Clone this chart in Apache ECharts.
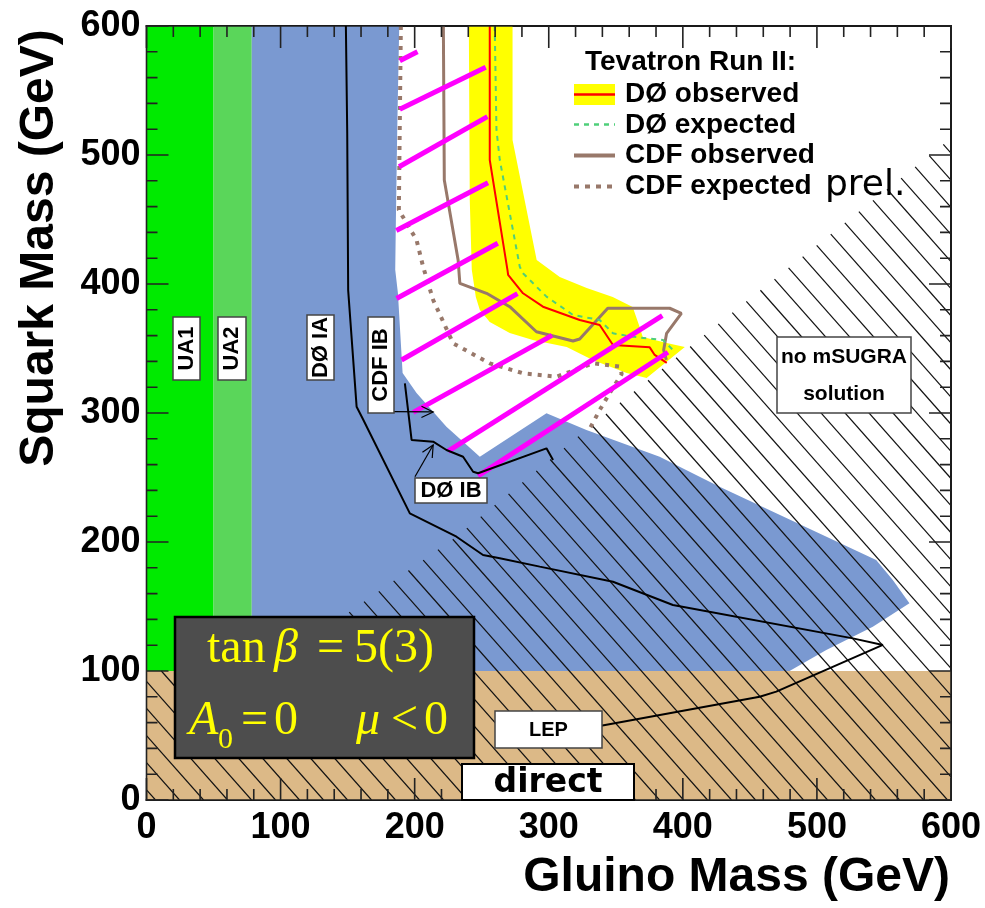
<!DOCTYPE html>
<html>
<head>
<meta charset="utf-8">
<script src="https://cdn.jsdelivr.net/npm/echarts@6/dist/echarts.min.js"></script>
<style>
html, body { margin: 0; padding: 0; background: #fff; }
#chart { width: 985px; height: 908px; }
</style>
</head>
<body>
<div id="chart"></div>
<script>
// Axis ranges (GeV) and tick values
const gluinoRange = [0, 600];
const squarkRange = [0, 600];
const majorTicks = [0, 100, 200, 300, 400, 500, 600];
const minorPerMajor = 5;

// Excluded regions as [gluino mass, squark mass] vertices
const ua1Region = [[0, 100], [50, 100], [50, 600], [0, 600]];
const ua2Region = [[50, 100], [78.5, 100], [78.5, 600], [50, 600]];
const d0IaRegion = [[78.5, 600], [188.5, 600], [187, 520], [186, 450], [185.5, 411], [187.5, 393],
  [191, 331], [201.4, 315.5], [223.7, 289.4], [248.6, 266.1], [298.3, 299.8], [328.1, 286.8],
  [382.7, 266.1], [427.4, 242.9], [544.2, 186], [556.6, 170.5], [569, 152.5], [541.7, 134.3],
  [507, 116.3], [479.6, 100], [78.5, 100]];
const lepRegion = [[0, 0], [600, 0], [600, 100], [0, 100]];
const noSugraRegion = [[600, 513], [442, 382], [328, 287], [231, 204], [149, 144], [86, 100],
  [0, 100], [0, 0], [600, 0]];
const d0BandRegion = [[240.4, 600], [241.1, 465], [242.6, 411], [245.6, 390], [248.6, 379.8],
  [256, 370.5], [270.9, 362], [288.1, 356.6], [313.4, 351.2], [332.8, 341.1], [358.1, 331],
  [373, 327.1], [401.5, 351.2], [388, 354.3], [370.1, 358.9], [367.8, 366.7], [362.6, 382.2],
  [347.7, 389.9], [328.3, 396.9], [308.2, 405.4], [291, 418.6], [273, 511.6], [273, 600]];

// Limit curves
const d0Observed = [[256, 600], [256, 496.1], [269.2, 410.9], [269.7, 407], [280.8, 392.8],
  [295.7, 382.4], [323.1, 372.1], [338, 368.2], [347.9, 352.7], [375.3, 350.9], [379, 345],
  [388, 338.8]];
const d0Expected = [[259.7, 600], [261, 519.4], [263.5, 496.1], [278.4, 413.4], [280.8, 408.3],
  [298.3, 390.2], [318.1, 376], [338, 372.1], [347.9, 361.8], [362.8, 359.1], [385.2, 356.6],
  [393.9, 347.5]];
const cdfObserved = [[221.4, 600], [222.1, 480.6], [232.4, 418.6], [233.7, 400.5], [253.6, 392.8],
  [270.9, 382.4], [290.8, 363], [318.1, 355.8], [323.1, 357.4], [344, 381.2], [390.2, 381.2],
  [398.9, 377.3], [387.9, 361.8], [385.7, 348.8], [387.7, 341.1]];
const cdfExpected = [[189.7, 600], [188.2, 457.4], [201.4, 434.1], [206.3, 413.4], [213.8, 387.6],
  [228.7, 354], [256, 338.5], [280.8, 330.8], [305.7, 328.1], [333, 338.5], [352.9, 335.9],
  [354.4, 330.2], [345.5, 315.5], [338, 302.3], [330.5, 287.6]];
const d0IaLimit = [[148.7, 600], [149.7, 516.8], [150.4, 395.3], [156.7, 304.9], [161.1, 295.9],
  [196.4, 222.2], [231.2, 204.1], [251, 189.9], [263.5, 187.4], [293.3, 180.9], [347.9, 169.2],
  [392.6, 151.2], [526.8, 125.3], [549.2, 120.2], [469.7, 84], [457.3, 80.1], [338, 57.4]];
const d0IbLimit = [[192.7, 323], [197.7, 279.1], [213.8, 277.8], [223.7, 271.3], [236.1, 266.1],
  [243.6, 254.5], [247.3, 253.3], [298.3, 272.6], [303.2, 263.6]];

// CDF Run IB excluded band, drawn as hatch strokes
const cdfIbStrokes = [
  [[188.9, 573.1], [202.1, 580.1]],
  [[188.9, 535.4], [253, 568]],
  [[188.4, 490.9], [254.3, 529.7]],
  [[186.3, 441.5], [254.7, 478.5]],
  [[186.5, 388.8], [262, 431.6]],
  [[190.2, 341.1], [276.7, 392.6]],
  [[198.9, 300.5], [302.5, 360.2]],
  [[224.9, 270.5], [384.7, 375.4]],
  [[247.3, 251.2], [388.9, 347.1]]
];

// Label pointers: [tail, tip]
const cdfIbPointer = [[183.9, 301], [213.8, 300.8]];
const d0IbPointer = [[200.2, 250.6], [213.8, 275.2]];

const SANS = '"Liberation Sans", Arial, Helvetica, sans-serif';
const SERIF = '"Liberation Serif", "Times New Roman", serif';

function regionSeries(name, pts, fill, z) {
  return {
    type: 'custom', name: name, coordinateSystem: 'cartesian2d', z: z, silent: true, clip: true,
    data: [[0, 0]],
    renderItem: function (params, api) {
      return { type: 'polygon', shape: { points: pts.map(function (p) { return api.coord(p); }) },
        style: { fill: fill, stroke: null } };
    }
  };
}

// Tick values: majors plus evenly split minors
function tickValues() {
  const out = [];
  for (let i = 0; i < majorTicks.length; i++) {
    out.push({ v: majorTicks[i], major: true });
    if (i + 1 < majorTicks.length) {
      const step = (majorTicks[i + 1] - majorTicks[i]) / minorPerMajor;
      for (let m = 1; m < minorPerMajor; m++) out.push({ v: majorTicks[i] + m * step, major: false });
    }
  }
  return out;
}

// Diagonal "\" hatching clipped to a polygon (even-odd scanlines along the stroke direction)
function hatchSeries(name, pts, z) {
  return {
    type: 'custom', name: name, coordinateSystem: 'cartesian2d', z: z, silent: true, clip: true,
    data: [[0, 0]],
    renderItem: function (params, api) {
      const px = pts.map(function (p) { return api.coord(p); });
      const k = 1.13, step = 24 * k;
      const cs = px.map(function (p) { return p[1] - k * p[0]; });
      const lo = Math.min.apply(null, cs), hi = Math.max.apply(null, cs);
      const children = [];
      for (let c = Math.ceil(lo / step) * step + 0.5; c <= hi; c += step) {
        const xs = [];
        for (let i = 0; i < px.length; i++) {
          const a = px[i], b = px[(i + 1) % px.length];
          const fa = a[1] - k * a[0] - c, fb = b[1] - k * b[0] - c;
          if ((fa < 0) !== (fb < 0)) {
            const t = fa / (fa - fb);
            xs.push(a[0] + t * (b[0] - a[0]));
          }
        }
        xs.sort(function (m, n) { return m - n; });
        for (let j = 0; j + 1 < xs.length; j += 2) {
          children.push({ type: 'line', shape: { x1: xs[j], y1: k * xs[j] + c, x2: xs[j + 1], y2: k * xs[j + 1] + c },
            style: { stroke: '#111', lineWidth: 1.2 } });
        }
      }
      return { type: 'group', children: children };
    }
  };
}

// Inward frame ticks, one comb-shaped polyline per side of the frame
function frameTickSeries(name, z) {
  return {
    type: 'custom', name: name, coordinateSystem: 'cartesian2d', z: z, silent: true, clip: false,
    data: [[0, 0]],
    renderItem: function (params, api) {
      const c0 = api.coord([gluinoRange[0], squarkRange[0]]);
      const c1 = api.coord([gluinoRange[1], squarkRange[1]]);
      const bottom = [], top = [], left = [], right = [];
      tickValues().forEach(function (t) {
        const len = t.major ? 22 : 11;
        const p = api.coord([t.v, t.v]);
        bottom.push([p[0], c0[1]], [p[0], c0[1] - len], [p[0], c0[1]]);
        top.push([p[0], c1[1]], [p[0], c1[1] + len], [p[0], c1[1]]);
        left.push([c0[0], p[1]], [c0[0] + len, p[1]], [c0[0], p[1]]);
        right.push([c1[0], p[1]], [c1[0] - len, p[1]], [c1[0], p[1]]);
      });
      function comb(points) {
        return { type: 'polyline', shape: { points: points },
          style: { stroke: '#222', lineWidth: 1.6, fill: null, lineJoin: 'miter' } };
      }
      return { type: 'group', children: [comb(bottom), comb(top), comb(left), comb(right)] };
    }
  };
}

function curveSeries(name, pts, lineStyle, z) {
  return { type: 'line', name: name, data: pts, symbol: 'none', showSymbol: false, smooth: false,
    lineStyle: lineStyle, z: z, silent: true, clip: true };
}

function pointerSeries(name, seg, z) {
  return {
    type: 'custom', name: name, coordinateSystem: 'cartesian2d', z: z, silent: true,
    data: [[0, 0]],
    renderItem: function (params, api) {
      const a = api.coord(seg[0]), b = api.coord(seg[1]);
      const ang = Math.atan2(b[1] - a[1], b[0] - a[0]);
      const L = 13, w = 0.45;
      const h1 = [b[0] - L * Math.cos(ang - w), b[1] - L * Math.sin(ang - w)];
      const h2 = [b[0] - L * Math.cos(ang + w), b[1] - L * Math.sin(ang + w)];
      return { type: 'group', children: [
        { type: 'line', shape: { x1: a[0], y1: a[1], x2: b[0], y2: b[1] }, style: { stroke: '#000', lineWidth: 1.2 } },
        { type: 'polyline', shape: { points: [h1, b, h2] }, style: { stroke: '#000', lineWidth: 1.2, fill: null } }
      ] };
    }
  };
}

function labelBox(x, y, w, h) {
  return { type: 'rect', z: 100, shape: { x: x, y: y, width: w, height: h },
    style: { fill: '#fff', stroke: '#444', lineWidth: 1.5 } };
}
function label(text, x, y, font, opts) {
  const o = opts || {};
  return { type: 'text', z: 101, x: x, y: y, rotation: o.rotation || 0,
    style: { text: text, font: font, fill: o.fill || '#000', align: o.align || 'center',
      verticalAlign: o.verticalAlign || 'middle' } };
}

const frameAxis = {
  interval: 100,
  axisLine: { show: true, onZero: false, lineStyle: { color: '#000', width: 2 } },
  axisTick: { show: false },
  minorTick: { show: false },
  splitLine: { show: false }
};

const series = [
  regionSeries('UA1', ua1Region, '#00ea00', 2),
  regionSeries('UA2', ua2Region, '#5ad65a', 2),
  regionSeries('DØ IA', d0IaRegion, '#7a99d1', 2),
  regionSeries('DØ band', d0BandRegion, '#ffff00', 3),
  regionSeries('LEP', lepRegion, '#dcb987', 4),
  hatchSeries('no mSUGRA solution', noSugraRegion, 5),
  curveSeries('CDF expected', cdfExpected, { color: '#98786a', width: 4, type: [4, 6] }, 6),
  curveSeries('CDF observed', cdfObserved, { color: '#98786a', width: 3 }, 6),
  curveSeries('DØ expected', d0Expected, { color: '#4fcf7a', width: 2, type: [5, 5] }, 7),
  curveSeries('DØ observed', d0Observed, { color: '#ff0000', width: 2 }, 7),
  {
    type: 'lines', name: 'CDF IB', coordinateSystem: 'cartesian2d', z: 8, silent: true,
    lineStyle: { color: '#ff00ff', width: 5, opacity: 1 },
    data: cdfIbStrokes.map(function (s) { return { coords: s }; })
  },
  curveSeries('DØ IA limit', d0IaLimit, { color: '#000', width: 2 }, 9),
  curveSeries('DØ IB limit', d0IbLimit, { color: '#000', width: 2 }, 9),
  pointerSeries('CDF IB pointer', cdfIbPointer, 9),
  pointerSeries('DØ IB pointer', d0IbPointer, 9),
  frameTickSeries('frame ticks', 9)
];

const graphics = [
  // region labels
  labelBox(173, 317, 27, 63), label('UA1', 186.5, 348.5, 'bold 22px ' + SANS, { rotation: Math.PI / 2 }),
  labelBox(218, 317, 28, 63), label('UA2', 232, 348.5, 'bold 22px ' + SANS, { rotation: Math.PI / 2 }),
  labelBox(307, 315, 27, 65), label('DØ IA', 320.5, 347.5, 'bold 22px ' + SANS, { rotation: Math.PI / 2 }),
  labelBox(368, 317, 26, 96), label('CDF IB', 381, 365, 'bold 22px ' + SANS, { rotation: Math.PI / 2 }),
  labelBox(415, 478, 72, 25), label('DØ IB', 451, 491, 'bold 22px ' + SANS),
  labelBox(777, 337, 134, 76), label('no mSUGRA', 844, 357, 'bold 21px ' + SANS),
  label('solution', 844, 394, 'bold 21px ' + SANS),
  labelBox(495, 711, 107, 37), label('LEP', 548.5, 730, 'bold 20px ' + SANS),
  { type: 'rect', z: 100, shape: { x: 462, y: 764, width: 172, height: 36 },
    style: { fill: '#fff', stroke: '#000', lineWidth: 2 } },
  label('direct', 548, 783, 'bold 33px "DejaVu Sans", sans-serif'),
  label('prel.', 825, 186, '36px "DejaVu Sans", sans-serif', { align: 'left' }),
  // parameter box
  { type: 'rect', z: 100, shape: { x: 175, y: 617, width: 299, height: 141 },
    style: { fill: '#4d4d4d', stroke: '#000', lineWidth: 2.5 } },
  label('tan', 207, 649, '48px ' + SERIF, { align: 'left', fill: '#ffff00' }),
  label('β', 274, 649, 'italic 48px ' + SERIF, { align: 'left', fill: '#ffff00' }),
  label('=', 317, 649, '48px ' + SERIF, { align: 'left', fill: '#ffff00' }),
  label('5(3)', 354, 649, '48px ' + SERIF, { align: 'left', fill: '#ffff00' }),
  label('A', 189, 721, 'italic 48px ' + SERIF, { align: 'left', fill: '#ffff00' }),
  label('0', 218, 740, '30px ' + SERIF, { align: 'left', fill: '#ffff00' }),
  label('=', 241, 721, '48px ' + SERIF, { align: 'left', fill: '#ffff00' }),
  label('0', 274, 721, '48px ' + SERIF, { align: 'left', fill: '#ffff00' }),
  label('μ', 356, 721, 'italic 48px ' + SERIF, { align: 'left', fill: '#ffff00' }),
  label('<', 391, 721, '48px ' + SERIF, { align: 'left', fill: '#ffff00' }),
  label('0', 424, 721, '48px ' + SERIF, { align: 'left', fill: '#ffff00' }),
  // legend
  label('Tevatron Run II:', 585, 62, 'bold 28px ' + SANS, { align: 'left' }),
  { type: 'rect', z: 100, shape: { x: 574, y: 84, width: 41, height: 21 }, style: { fill: '#ffff00' } },
  { type: 'line', z: 101, shape: { x1: 574, y1: 94.5, x2: 615, y2: 94.5 }, style: { stroke: '#ff0000', lineWidth: 2.5 } },
  { type: 'line', z: 101, shape: { x1: 574, y1: 124.5, x2: 615, y2: 124.5 }, style: { stroke: '#4fcf7a', lineWidth: 2.5, lineDash: [5, 5] } },
  { type: 'line', z: 101, shape: { x1: 574, y1: 155.5, x2: 615, y2: 155.5 }, style: { stroke: '#98786a', lineWidth: 4 } },
  { type: 'line', z: 101, shape: { x1: 574, y1: 186.5, x2: 615, y2: 186.5 }, style: { stroke: '#98786a', lineWidth: 4, lineDash: [5, 6] } },
  label('DØ observed', 625, 94, 'bold 28px ' + SANS, { align: 'left' }),
  label('DØ expected', 625, 125, 'bold 28px ' + SANS, { align: 'left' }),
  label('CDF observed', 625, 155.5, 'bold 28px ' + SANS, { align: 'left' }),
  label('CDF expected', 625, 186.5, 'bold 28px ' + SANS, { align: 'left' }),
  // axis titles
  label('Gluino Mass (GeV)', 950, 878, 'bold 48px ' + SANS, { align: 'right' }),
  label('Squark Mass (GeV)', 40, 248, 'bold 48px ' + SANS, { rotation: Math.PI / 2 })
];

const chart = echarts.init(document.getElementById('chart'), null, { renderer: 'canvas' });
chart.setOption({
  animation: false,
  backgroundColor: '#fff',
  grid: { left: 146.5, right: 34, top: 26, bottom: 108, containLabel: false },
  xAxis: [
    Object.assign({}, frameAxis, { type: 'value', position: 'bottom', min: gluinoRange[0], max: gluinoRange[1],
      axisLabel: { show: true, margin: 10, color: '#000', fontFamily: SANS, fontWeight: 'bold', fontSize: 36 } }),
    Object.assign({}, frameAxis, { type: 'value', position: 'top', min: gluinoRange[0], max: gluinoRange[1],
      axisLabel: { show: false } })
  ],
  yAxis: [
    Object.assign({}, frameAxis, { type: 'value', position: 'left', min: squarkRange[0], max: squarkRange[1],
      axisLabel: { show: true, margin: 6, color: '#000', fontFamily: SANS, fontWeight: 'bold', fontSize: 36 } }),
    Object.assign({}, frameAxis, { type: 'value', position: 'right', min: squarkRange[0], max: squarkRange[1],
      axisLabel: { show: false } })
  ],
  series: series,
  graphic: { elements: graphics }
});
</script>
</body>
</html>
